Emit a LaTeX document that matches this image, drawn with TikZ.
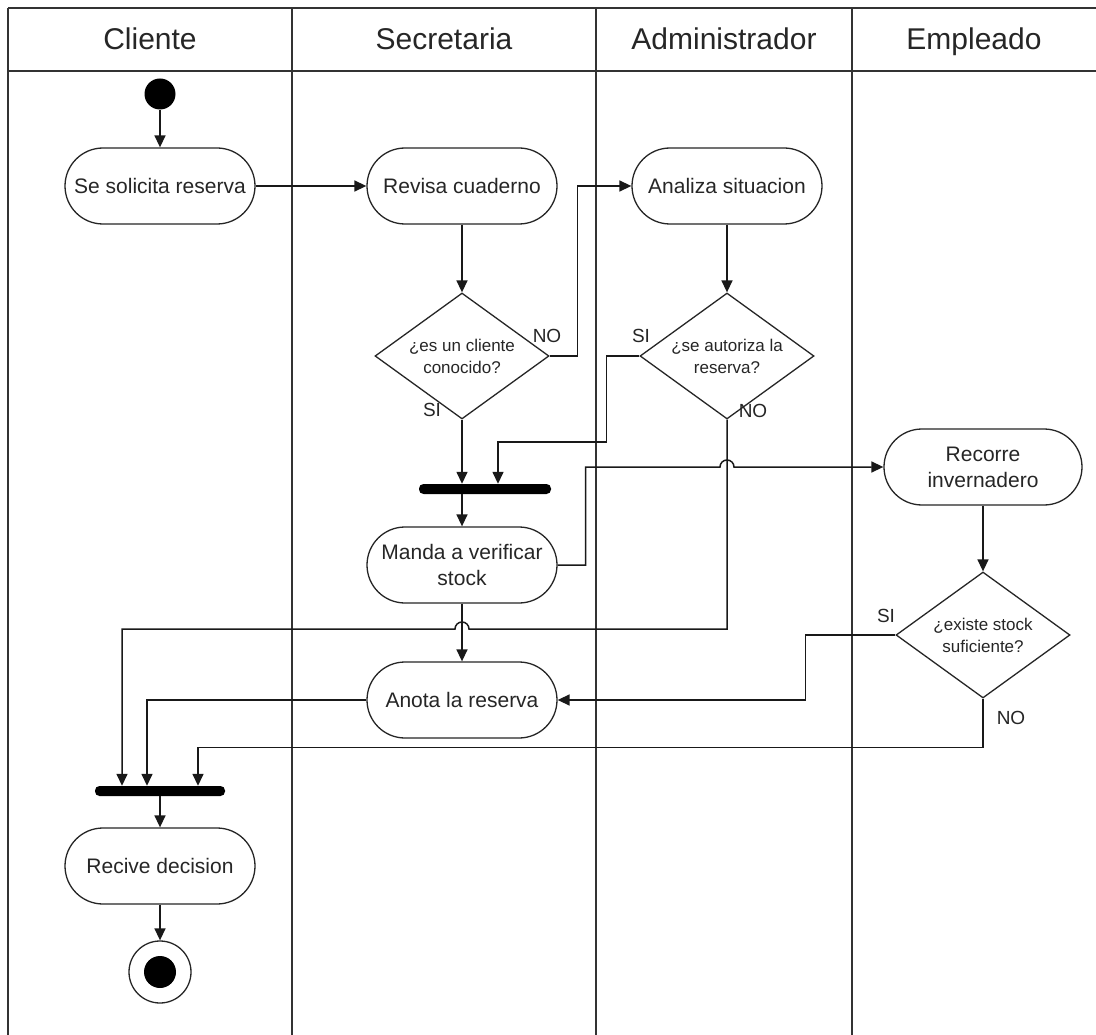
\documentclass[tikz,border=0pt]{standalone}
\usepackage{fontspec}
\setmainfont{Liberation Sans}
\usetikzlibrary{arrows.meta,shapes.geometric,calc}

\tikzset{
  lane/.style={line width=2.2pt, draw=black!80},
  lanetitle/.style={font=\fontsize{30}{33}\selectfont, text=black!85,
    text height=22pt, text depth=6pt, inner sep=0pt},
  activity/.style={draw=black!85, line width=1.3pt, rectangle, rounded corners=38pt,
    minimum width=190pt, minimum height=76pt, inner sep=0pt, align=center,
    font=\fontsize{21}{26}\selectfont, text=black!85},
  decision/.style={draw=black!85, line width=1.3pt, diamond, inner sep=0pt,
    minimum width=174pt, minimum height=126pt},
  dtext/.style={align=center, font=\fontsize{17}{22}\selectfont, text=black!85},
  guard/.style={font=\fontsize{19}{22}\selectfont, text=black!85, inner sep=0pt},
  syncbar/.style={fill=black, rectangle, rounded corners=4.5pt, inner sep=0pt,
    minimum height=10pt},
  flow/.style={line width=1.5pt, draw=black!90, -{Triangle[length=12pt,width=11pt]}},
}

\begin{document}
\begin{tikzpicture}[x=1pt, y=-1pt]
  \useasboundingbox (0,0) rectangle (1096,1035);
  \fill[white] (0,0) rectangle (1096,1035);

  % swimlane frame
  \draw[lane] (8,8) -- (1096,8);
  \draw[lane] (8,71) -- (1096,71);
  \draw[lane] (8,8) -- (8,1035);
  \draw[lane] (292,8) -- (292,1035);
  \draw[lane] (596,8) -- (596,1035);
  \draw[lane] (852,8) -- (852,1035);

  \node[lanetitle] (hcli) at (150,42) {Cliente};
  \node[lanetitle] (hsec) at (444,42) {Secretaria};
  \node[lanetitle] (hadm) at (724,42) {Administrador};
  \node[lanetitle] (hemp) at (974,42) {Empleado};

  % activities
  \node[circle, fill=black, inner sep=0pt, minimum size=31pt] (init) at (160,94) {};
  \node[activity] (A) at (160,186) {Se solicita reserva};
  \node[activity] (B) at (462,186) {Revisa cuaderno};
  \node[activity] (C) at (727,186) {Analiza situacion};

  \node[decision, label={[dtext]center:{¿es un cliente\\conocido?}}] (D1) at (462,356) {};
  \node[decision, label={[dtext]center:{¿se autoriza la\\reserva?}}] (D2) at (727,356) {};

  \node[syncbar, minimum width=132pt] (bar1) at (485,489) {};
  \node[activity] (E) at (462,565) {Manda a verificar\\stock};
  \node[activity, minimum width=198pt] (F) at (983,467) {Recorre\\invernadero};
  \node[decision, label={[dtext]center:{¿existe stock\\suficiente?}}] (D3) at (983,635) {};
  \node[activity] (G) at (462,700) {Anota la reserva};

  \node[syncbar, minimum width=130pt] (bar2) at (160,791) {};
  \node[activity] (H) at (160,866) {Recive decision};
  \node[circle, draw=black!85, line width=1.3pt, inner sep=0pt, minimum size=62pt] (fin) at (160,972) {};
  \fill[black] (fin.center) circle (16);

  % entry points on the bars
  \coordinate (b1in) at ($(bar1.north)+(13,0)$);
  \coordinate (b2a) at ($(bar2.north)+(-38,0)$);
  \coordinate (b2b) at ($(bar2.north)+(-13,0)$);
  \coordinate (b2c) at ($(bar2.north)+(38,0)$);

  % guards
  \node[guard] (g1no) at (547,336) {NO};
  \node[guard] (g1si) at (432,410) {SI};
  \node[guard] (g2si) at (641,336) {SI};
  \node[guard] (g2no) at (753,411) {NO};
  \node[guard] (g3si) at (886,616) {SI};
  \node[guard] (g3no) at (1011,718) {NO};

  % control flow
  \draw[flow] (init) -- (A);
  \draw[flow] (A) -- (B);
  \draw[flow] (B) -- (D1);
  \draw[flow] (C) -- (D2);
  \draw[flow] (D1.east) -- ++(28,0) |- (C.west);
  \draw[flow] (D1.south) -- (D1.south |- bar1.north);
  \draw[flow] (D2.west) -- ++(-33,0) |- ($(b1in)+(0,-42)$) -- (b1in);
  \draw[flow] (bar1.south -| E.north) -- (E.north);
  \draw[flow] (E.east) -- ++(28,0) |- ($(D2.south |- F.west)+(-7,0)$)
    arc[start angle=180, end angle=360, radius=7] -- (F.west);
  \draw[flow] (F.south -| D3.north) -- (D3.north);
  \draw[flow] (D2.south) |- ($(E.south |- 0,629)+(7,0)$)
    arc[start angle=0, end angle=-180, radius=7] -| (b2a);
  \draw[flow] (E.south) -- (G.north);
  \draw[flow] (D3.west) -- ++(-90,0) |- (G.east);
  \draw[flow] (G.west) -| (b2b);
  \draw[flow] (D3.south) -- ++(0,49) -| (b2c);
  \draw[flow] (bar2.south -| H.north) -- (H.north);
  \draw[flow] (H) -- (fin);
\end{tikzpicture}
\end{document}
